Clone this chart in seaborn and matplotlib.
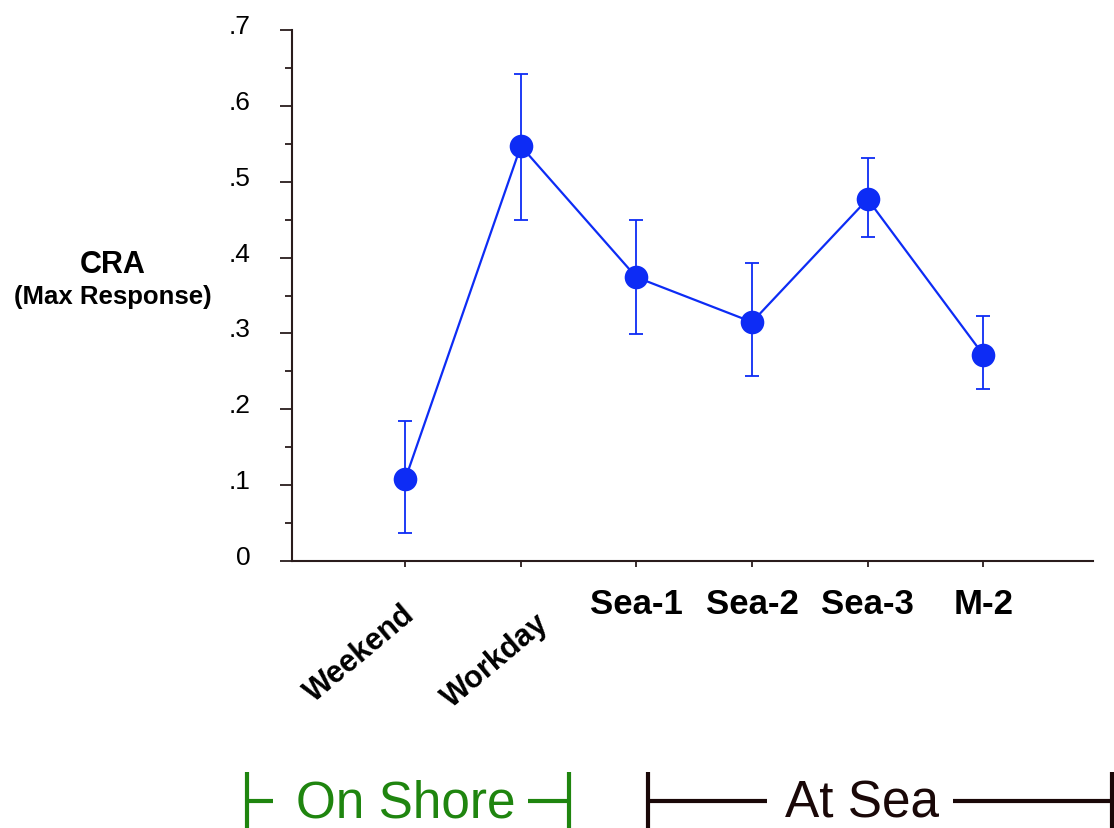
import matplotlib
matplotlib.use("Agg")
import numpy as np
import pandas as pd
import matplotlib.pyplot as plt
import seaborn as sns
from matplotlib.lines import Line2D
from matplotlib.transforms import ScaledTranslation

# Condition means of CRA (max response) with error-bar limits
conditions = ["Weekend", "Workday", "Sea-1", "Sea-2", "Sea-3", "M-2"]
cra_mean = [0.108, 0.547, 0.374, 0.315, 0.477, 0.272]
cra_low = [0.037, 0.449, 0.299, 0.244, 0.427, 0.227]
cra_high = [0.185, 0.642, 0.449, 0.393, 0.531, 0.323]
y_ticks = [0.0, 0.1, 0.2, 0.3, 0.4, 0.5, 0.6, 0.7]
y_tick_labels = ["0", ".1", ".2", ".3", ".4", ".5", ".6", ".7"]

BLUE = "#0d2cf5"
AXIS = "#2a1c1c"
GREEN = "#1f850f"
DARK = "#1a0808"

sns.set_theme(style="white")
plt.rcParams["font.family"] = ["Liberation Sans", "DejaVu Sans"]

W, H = 1114, 829
fig = plt.figure(figsize=(W / 100, H / 100), dpi=100)
ax = fig.add_axes([292 / W, 1 - 562 / H, (1093 - 292) / W, (562 - 31) / H])

pos = np.arange(len(conditions))
df = pd.DataFrame({"pos": pos, "cra": cra_mean, "low": cra_low, "high": cra_high})

sns.lineplot(data=df, x="pos", y="cra", ax=ax, color=BLUE, linewidth=1.6,
             marker="o", markersize=17, markeredgewidth=0, zorder=3)
ax.errorbar(df["pos"], df["cra"],
            yerr=[df["cra"] - df["low"], df["high"] - df["cra"]],
            fmt="none", ecolor=BLUE, elinewidth=1.3, capsize=5, capthick=1.3, zorder=2)

ax.set_xlim(-0.98, 5.95)
ax.set_ylim(0, 0.7)
ax.set_xlabel("")
ax.set_ylabel("")

for side in ("top", "right"):
    ax.spines[side].set_visible(False)
for side in ("left", "bottom"):
    ax.spines[side].set_color(AXIS)
    ax.spines[side].set_linewidth(1.5)

# y axis: major ticks every .1, minor ticks halfway between
ax.set_yticks(y_ticks)
ax.set_yticklabels(y_tick_labels)
ax.set_yticks(np.arange(0.05, 0.7, 0.1), minor=True)
ax.tick_params(axis="y", which="major", left=True, length=8.6, width=1.3,
               color=AXIS, direction="out", pad=21, labelsize=19, labelcolor="black")
ax.tick_params(axis="y", which="minor", left=True, length=5, width=1.3,
               color=AXIS, direction="out")
lift = ScaledTranslation(0, 0.065, fig.dpi_scale_trans)
for lab in ax.get_yticklabels():
    lab.set_transform(lab.get_transform() + lift)

# x axis: category ticks
ax.set_xticks(pos)
ax.set_xticklabels(conditions)
ax.tick_params(axis="x", which="major", bottom=True, length=4, width=1.3,
               color=AXIS, direction="out", pad=15, labelsize=25, labelcolor="black")
for lab in ax.get_xticklabels():
    lab.set_fontweight("bold")

# the two on-shore labels are slanted
shifts = {0: (-0.04, -0.11), 1: (0.14, -0.20)}
for i, lab in enumerate(ax.get_xticklabels()):
    if i in shifts:
        lab.set_rotation(40)
        lab.set_rotation_mode("anchor")
        lab.set_ha("right")
        lab.set_va("top")
        lab.set_fontsize(22)
        dx, dy = shifts[i]
        lab.set_transform(lab.get_transform() + ScaledTranslation(dx, dy, fig.dpi_scale_trans))

# y axis title
fig.text(113 / W, 1 - 273 / H, "CRA", ha="center", va="baseline",
         fontsize=22, fontweight="bold", color="black")
fig.text(113 / W, 1 - 304 / H, "(Max Response)", ha="center", va="baseline",
         fontsize=18.5, fontweight="bold", color="black")


def seg(x0, y0, x1, y1, color, lw):
    fig.add_artist(Line2D([x0 / W, x1 / W], [1 - y0 / H, 1 - y1 / H],
                          transform=fig.transFigure, color=color, linewidth=lw,
                          solid_capstyle="butt"))


# group brackets below the axis
seg(247, 773, 247, 829, GREEN, 3)
seg(247, 802, 273, 802, GREEN, 3)
seg(528, 802, 569, 802, GREEN, 3)
seg(569, 773, 569, 829, GREEN, 3)
fig.text(406 / W, 1 - 818 / H, "On Shore", ha="center", va="baseline",
         fontsize=37, color=GREEN)

seg(648, 773, 648, 829, DARK, 3)
seg(648, 802, 767, 802, DARK, 3)
seg(953, 802, 1112, 802, DARK, 3)
seg(1112, 773, 1112, 829, DARK, 3)
fig.text(862 / W, 1 - 818 / H, "At Sea", ha="center", va="baseline",
         fontsize=37, color=DARK)

fig.savefig("out.png", dpi=100)
